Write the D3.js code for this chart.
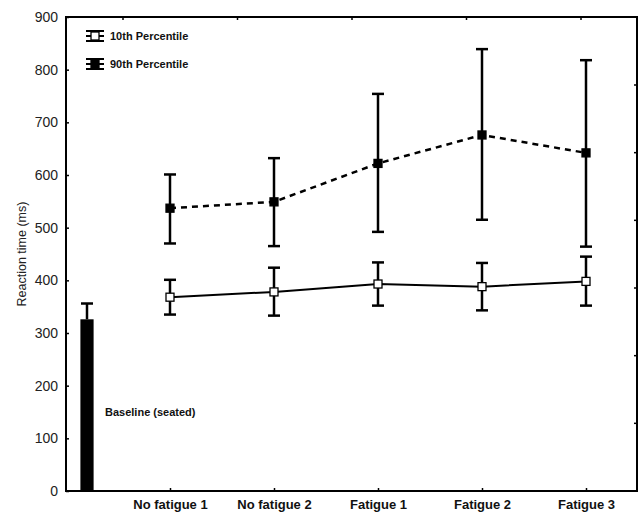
<!DOCTYPE html>
<html>
<head>
<meta charset="utf-8">
<script src="https://cdn.jsdelivr.net/npm/d3@7"></script>
<style>
  body { margin: 0; background: #fff; }
  svg { display: block; font-family: Arial, "Liberation Sans", sans-serif; }
</style>
</head>
<body>
<div id="chart"></div>
<script>
// data
var categories = ["No fatigue 1", "No fatigue 2", "Fatigue 1", "Fatigue 2", "Fatigue 3"];
var p10Mean = [368, 378, 393, 388, 398];
var p10Low  = [335, 333, 352, 343, 352];
var p10High = [401, 424, 434, 433, 445];
var p90Mean = [537, 549, 622, 676, 642];
var p90Low  = [470, 465, 492, 515, 464];
var p90High = [601, 632, 754, 839, 818];
var baselineMean = 326;
var baselineHigh = 356;
var yTicks = [0, 100, 200, 300, 400, 500, 600, 700, 800, 900];

var w = 639, h = 514;
// note: "top" is reserved on window, so use plot* names
var plotLeft = 66, plotRight = 637, plotTop = 17, plotBottom = 491;

var svg = d3.select("#chart").append("svg")
  .attr("width", w).attr("height", h);

var y = d3.scaleLinear().domain([0, 900]).range([plotBottom, plotTop]);
// category positions along the x axis
var x = d3.scalePoint().domain(categories).range([170, 586]);
// baseline bar sits on its own little band near the y axis
var xb = d3.scaleBand().domain(["Baseline"]).range([76, 98]).padding(0.25);

// frame
svg.append("rect")
  .attr("x", plotLeft).attr("y", plotTop)
  .attr("width", plotRight - plotLeft).attr("height", plotBottom - plotTop)
  .attr("fill", "none").attr("stroke", "#000").attr("stroke-width", 2);

// y axis, ticks pointing inward
var yAxis = d3.axisLeft(y).tickValues(yTicks).tickSize(-3).tickPadding(8);
var gy = svg.append("g").attr("transform", "translate(" + plotLeft + ",0)").call(yAxis);
gy.select(".domain").remove();
gy.selectAll("line").attr("stroke", "#000").attr("stroke-width", 1.5);
gy.selectAll("text").attr("font-size", 14).attr("fill", "#222")
  .attr("font-family", "Arial, 'Liberation Sans', sans-serif");

// x axis, ticks pointing inward
var xAxis = d3.axisBottom(x).tickSize(-3).tickPadding(9);
var gx = svg.append("g").attr("transform", "translate(0," + plotBottom + ")").call(xAxis);
gx.select(".domain").remove();
gx.selectAll("line").attr("stroke", "#000").attr("stroke-width", 1.5);
gx.selectAll("text").attr("font-size", 13).attr("font-weight", "bold").attr("fill", "#111")
  .attr("font-family", "Arial, 'Liberation Sans', sans-serif");

// stray ticks on top and right edges (from the secondary axes of the original)
var topTicks = d3.scaleLinear().domain([0, 4]).range([123, 581]);
svg.append("g").selectAll("line").data([0, 1, 2, 3, 4]).join("line")
  .attr("x1", d => topTicks(d)).attr("x2", d => topTicks(d))
  .attr("y1", plotTop).attr("y2", plotTop + 3)
  .attr("stroke", "#000").attr("stroke-width", 1.5);
var rightTicks = d3.scaleLinear().domain([0, 6]).range([85, 491]);
svg.append("g").selectAll("line").data([0, 1, 2, 3, 4, 5]).join("line")
  .attr("x1", plotRight).attr("x2", plotRight - 3)
  .attr("y1", d => rightTicks(d)).attr("y2", d => rightTicks(d))
  .attr("stroke", "#000").attr("stroke-width", 1.5);

// y label
svg.append("text")
  .attr("transform", "translate(22," + y(450) + ") rotate(-90)")
  .attr("text-anchor", "middle")
  .attr("dy", "0.35em")
  .attr("font-size", 12.5)
  .attr("fill", "#222")
  .text("Reaction time (ms)");

// baseline bar
svg.append("rect")
  .attr("x", xb("Baseline")).attr("width", xb.bandwidth())
  .attr("y", y(baselineMean)).attr("height", y(0) - y(baselineMean))
  .attr("fill", "#000");
var bx = xb("Baseline") + xb.bandwidth() / 2;
svg.append("line")
  .attr("x1", bx).attr("x2", bx)
  .attr("y1", y(baselineMean)).attr("y2", y(baselineHigh))
  .attr("stroke", "#000").attr("stroke-width", 2.5);
svg.append("line")
  .attr("x1", bx - 6).attr("x2", bx + 6)
  .attr("y1", y(baselineHigh)).attr("y2", y(baselineHigh))
  .attr("stroke", "#000").attr("stroke-width", 2.5);
svg.append("text")
  .attr("x", 105).attr("y", 416)
  .attr("font-size", 11).attr("font-weight", "bold").attr("fill", "#111")
  .text("Baseline (seated)");

function drawSeries(mean, low, high, dashed, filled) {
  var pts = categories.map(function(c, i) {
    return { c: c, m: mean[i], lo: low[i], hi: high[i] };
  });
  var g = svg.append("g");
  g.append("path")
    .datum(pts)
    .attr("fill", "none")
    .attr("stroke", "#000")
    .attr("stroke-width", dashed ? 2.5 : 2)
    .attr("stroke-dasharray", dashed ? "6,5" : null)
    .attr("d", d3.line().x(d => x(d.c)).y(d => y(d.m)));

  g.selectAll(".eb").data(pts).join("line").attr("class", "eb")
    .attr("x1", d => x(d.c)).attr("x2", d => x(d.c))
    .attr("y1", d => y(d.lo)).attr("y2", d => y(d.hi))
    .attr("stroke", "#000").attr("stroke-width", 2.5);
  g.selectAll(".capHi").data(pts).join("line").attr("class", "capHi")
    .attr("x1", d => x(d.c) - 6).attr("x2", d => x(d.c) + 6)
    .attr("y1", d => y(d.hi)).attr("y2", d => y(d.hi))
    .attr("stroke", "#000").attr("stroke-width", 2.5);
  g.selectAll(".capLo").data(pts).join("line").attr("class", "capLo")
    .attr("x1", d => x(d.c) - 6).attr("x2", d => x(d.c) + 6)
    .attr("y1", d => y(d.lo)).attr("y2", d => y(d.lo))
    .attr("stroke", "#000").attr("stroke-width", 2.5);
  g.selectAll("rect").data(pts).join("rect")
    .attr("x", d => x(d.c) - 4).attr("y", d => y(d.m) - 4)
    .attr("width", 8).attr("height", 8)
    .attr("fill", filled ? "#000" : "#fff")
    .attr("stroke", "#000").attr("stroke-width", 1.3);
}

drawSeries(p90Mean, p90Low, p90High, true, true);
drawSeries(p10Mean, p10Low, p10High, false, false);

// legend
var legend = [
  { label: "10th Percentile", filled: false, y: 36 },
  { label: "90th Percentile", filled: true, y: 64 }
];
var lg = svg.append("g").selectAll("g").data(legend).join("g")
  .attr("transform", d => "translate(95," + d.y + ")");
lg.append("line").attr("x1", -9).attr("x2", 9).attr("y1", -5).attr("y2", -5)
  .attr("stroke", "#000").attr("stroke-width", 2);
lg.append("line").attr("x1", -9).attr("x2", 9).attr("y1", 5).attr("y2", 5)
  .attr("stroke", "#000").attr("stroke-width", 2);
lg.append("line").attr("x1", -9).attr("x2", 9).attr("y1", 0).attr("y2", 0)
  .attr("stroke", "#000").attr("stroke-width", 2);
lg.append("line").attr("x1", 0).attr("x2", 0).attr("y1", -5).attr("y2", 5)
  .attr("stroke", "#000").attr("stroke-width", 2);
lg.append("rect").attr("x", -4).attr("y", -4).attr("width", 8).attr("height", 8)
  .attr("fill", d => d.filled ? "#000" : "#fff")
  .attr("stroke", "#000").attr("stroke-width", 1.3);
lg.append("text").attr("x", 15).attr("y", 4)
  .attr("font-size", 11).attr("font-weight", "bold").attr("fill", "#111")
  .text(d => d.label);
</script>
</body>
</html>
